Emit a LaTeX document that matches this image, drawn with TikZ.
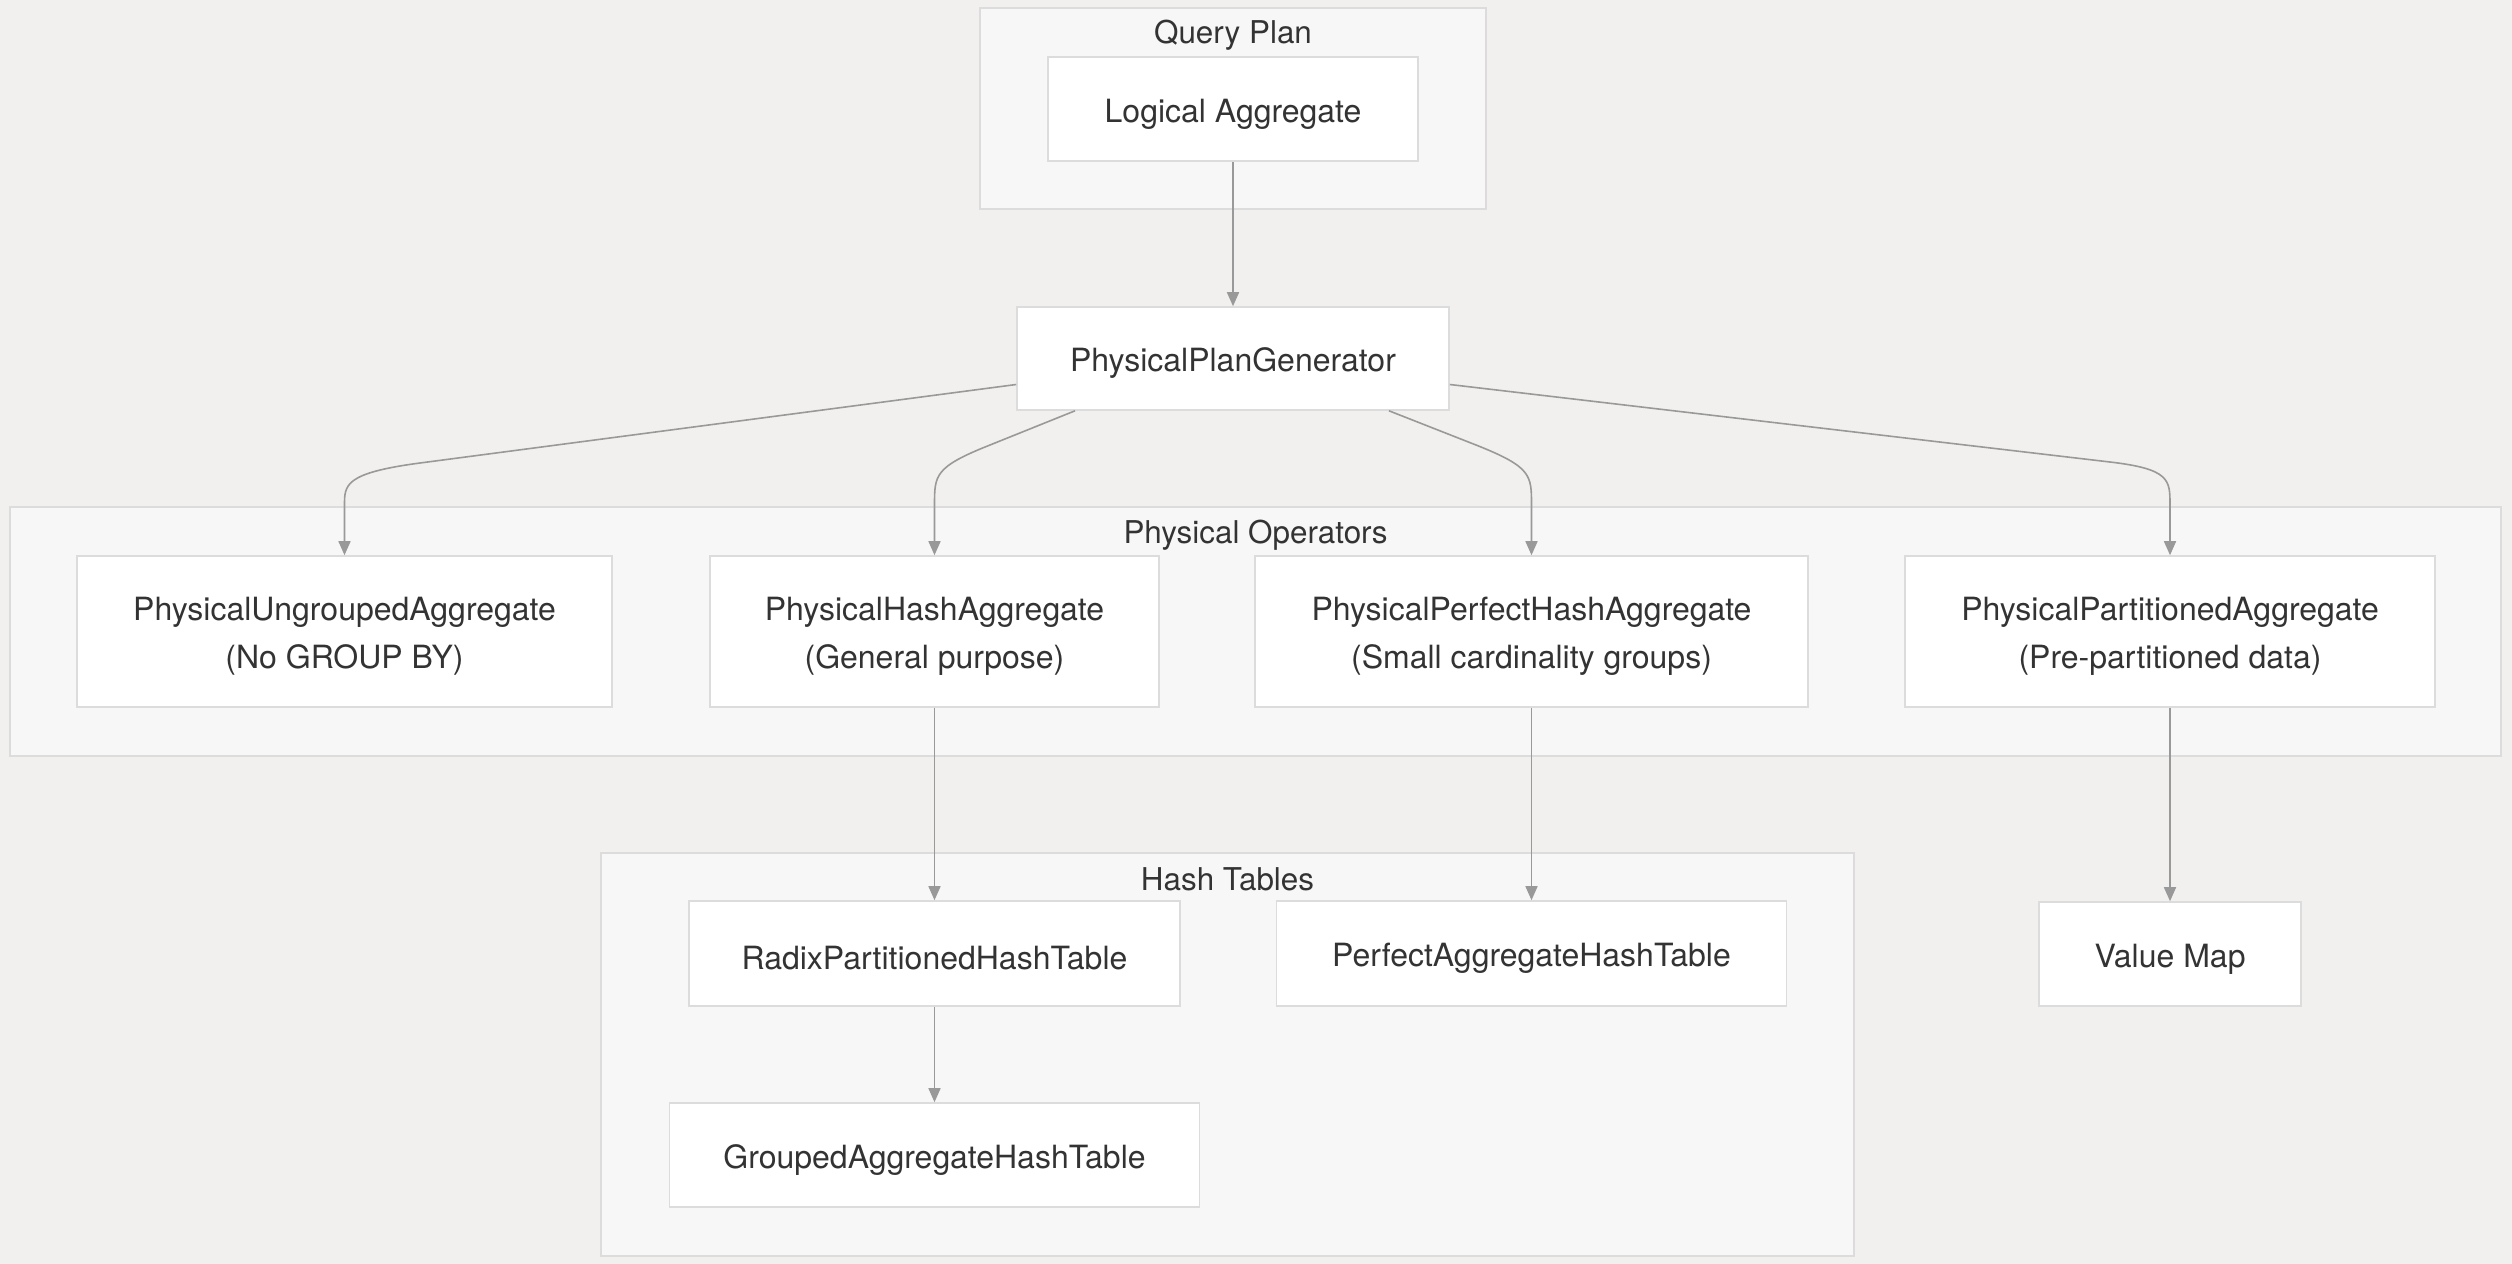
\documentclass[tikz,border=0pt]{standalone}
\usepackage{fontspec}
\setmainfont{TeX Gyre Heros}
\usetikzlibrary{arrows.meta}
\definecolor{bgcol}{HTML}{F1F0EE}
\definecolor{clfill}{HTML}{F7F7F7}
\definecolor{clline}{HTML}{DCDCDC}
\definecolor{edgecol}{HTML}{999999}
\definecolor{txtcol}{HTML}{333333}
\tikzset{
        box/.style={draw=clline, line width=0.8pt, fill=white, text=txtcol, align=center, inner sep=0pt, font=\fontsize{16}{24}\selectfont, execute at begin node={\rule{0pt}{16.5pt}}},
        twobox/.style={box, text height=37pt, text depth=0pt},
        cluster/.style={draw=clline, line width=1pt, fill=clfill, inner sep=0pt},
        ctitle/.style={text=txtcol, font=\fontsize{15.7}{18}\selectfont},
        link/.style={draw=edgecol, line width=0.8pt, -{Triangle[length=7pt,width=6pt]}}
}
\begin{document}
\begin{tikzpicture}[x=0.5pt,y=-0.5pt]
        \path[use as bounding box, fill=bgcol] (0,0) rectangle (2512,1264);
        \node[cluster, minimum width=253pt, minimum height=100.5pt] (qp) at (1233,108.5) {};
        \node[cluster, minimum width=1245.5pt, minimum height=124.5pt] (po) at (1255.5,631.5) {};
        \node[cluster, minimum width=626.5pt, minimum height=201.5pt] (ht) at (1227.5,1054.5) {};
        \node[ctitle] (qpt) at ([yshift=-14pt]qp.north) {Query Plan};
        \node[ctitle] (pot) at ([yshift=-14.5pt]po.north) {Physical Operators};
        \node[ctitle] (htt) at ([yshift=-13.5pt]ht.north) {Hash Tables};
        \node[box, minimum width=185pt, minimum height=52pt] (la) at (1233,109) {Logical Aggregate};
        \node[box, minimum width=216pt, minimum height=51.5pt] (ppg) at (1233,358.5) {PhysicalPlanGenerator};
        \node[twobox, minimum width=267.5pt, minimum height=75.5pt] (pua) at (344.5,631.5) {PhysicalUngroupedAggregate\\(No GROUP BY)};
        \node[twobox, minimum width=224.5pt, minimum height=75.5pt] (pha) at (934.5,631.5) {PhysicalHashAggregate\\(General purpose)};
        \node[twobox, minimum width=276.5pt, minimum height=75.5pt] (ppha) at (1531.5,631.5) {PhysicalPerfectHashAggregate\\(Small cardinality groups)};
        \node[twobox, minimum width=265pt, minimum height=75.5pt] (ppa) at (2170,631.5) {PhysicalPartitionedAggregate\\(Pre-partitioned data)};
        \node[box, minimum width=245.5pt, minimum height=52.5pt] (rpht) at (934.5,953.5) {RadixPartitionedHashTable};
        \node[box, minimum width=255pt, minimum height=52.5pt] (paht) at (1531.5,953.5) {PerfectAggregateHashTable};
        \node[box, minimum width=265pt, minimum height=52pt] (gaht) at (934.5,1155) {GroupedAggregateHashTable};
        \node[box, minimum width=131pt, minimum height=52pt] (vm) at (2170,954) {Value Map};
        \draw[link] (la) -- (ppg);
        \draw[link] ([yshift=-13pt]ppg.west) -- (420,463) .. controls (344.5,473) and (344.5,485) .. (344.5,505) -- (pua.north);
        \draw[link] ([xshift=-79pt]ppg.south) -- (990,445) .. controls (934.5,467) and (934.5,475) .. (934.5,505) -- (pha.north);
        \draw[link] ([xshift=78pt]ppg.south) -- (1476,445) .. controls (1531.5,467) and (1531.5,475) .. (1531.5,505) -- (ppha.north);
        \draw[link] ([yshift=-13pt]ppg.east) -- (2110,462) .. controls (2170,469) and (2170,480) .. (2170,505) -- (ppa.north);
        \draw[link] (pha) -- (rpht);
        \draw[link] (ppha) -- (paht);
        \draw[link] (ppa) -- (vm);
        \draw[link] (rpht) -- (gaht);
    \end{tikzpicture}
\end{document}
